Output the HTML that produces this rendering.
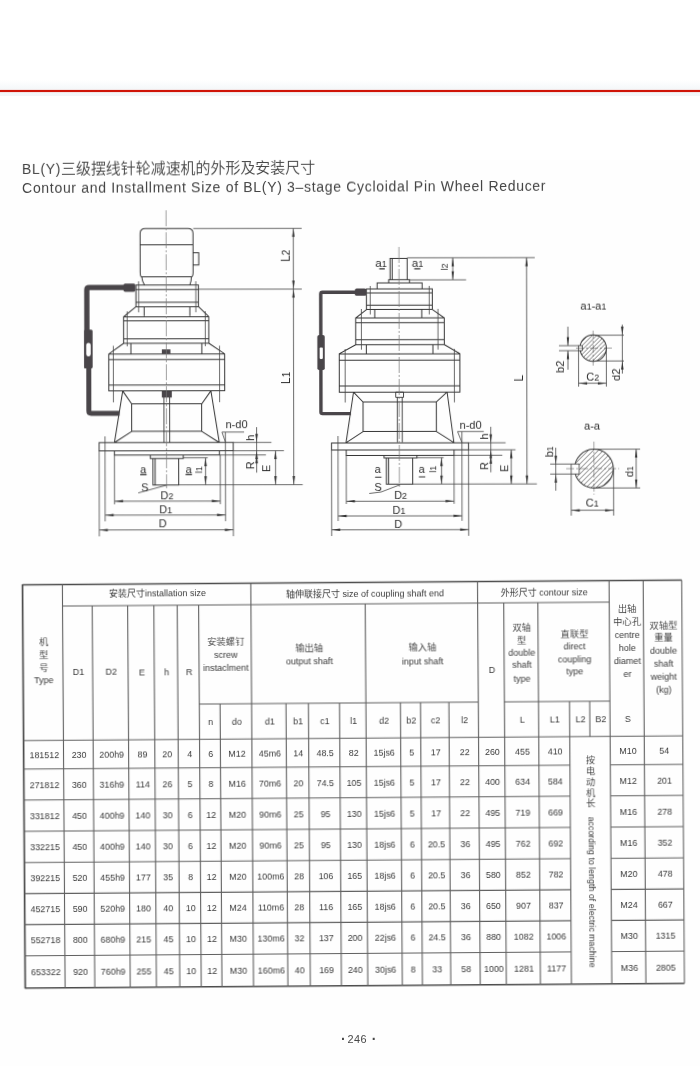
<!DOCTYPE html>
<html lang="zh-CN">
<head>
<meta charset="utf-8">
<title>BL(Y) 3–stage Cycloidal Pin Wheel Reducer</title>
<style>
html,body{margin:0;padding:0;background:#fff;}
body{width:700px;height:1066px;position:relative;overflow:hidden;font-family:"Liberation Sans","Noto Sans CJK SC",sans-serif;}
.band{position:absolute;left:0;top:80px;width:700px;height:16px;background:linear-gradient(#fff,#f4f7f9 60%,#f3f6f8);}
.red{position:absolute;left:0;top:89.6px;width:700px;height:2.6px;background:#cf1408;box-shadow:0 0 1px #e0503f;}
.scan{position:absolute;left:0;top:160px;width:700px;height:906px;background:#fefefe;}
.rot{position:absolute;left:0;top:0;width:700px;height:1066px;transform-origin:0 0;filter:blur(0.35px);}
.t1,.t2{position:absolute;left:22.1px;white-space:nowrap;color:#444;font-size:14px;line-height:16px;}
.t1{top:161.1px;letter-spacing:0.62px;}
.t1 span{font-size:15px;letter-spacing:-0.05px;font-weight:350;margin-left:0px;}
.t2{top:180.0px;letter-spacing:0.687px;}
.pg{position:absolute;left:347.4px;top:1033.0px;font-size:10.9px;line-height:12px;color:#474747;letter-spacing:0.5px;white-space:nowrap;filter:blur(0.35px);}
.pg b{position:absolute;top:-0.6px;font-size:14px;line-height:14px;letter-spacing:0;}
svg{position:absolute;left:0;top:0;}
svg text{font-family:"Liberation Sans","Noto Sans CJK SC",sans-serif;}
</style>
</head>
<body>
<div class="band"></div>
<div class="red"></div>
<div class="scan"></div>
<div class="rot" style="transform:matrix(1,-0.0042,0.0042,1,-0.781,0.092)">
<div class="t1">BL(Y)<span>三级摆线针轮减速机的外形及安装尺寸</span></div>
<div class="t2">Contour and Installment Size of BL(Y) 3–stage Cycloidal Pin Wheel Reducer</div>
</div>
<div class="rot" style="transform:matrix(1,-0.0015,0.002,1,-0.760,0.525)">
<svg width="700" height="1066" viewBox="0 0 700 1066">
<g id="left">
<path d="M140.4,272 V233.3 Q140.4,228.3 145.4,228.3 H188.3 Q193.3,228.3 193.3,233.3 V272 Q193.3,276.5 191.6,276.8 Q191.6,281 190,284.6 M140.4,272 Q140.4,276.5 142,276.8 Q142.4,281 144.6,284.6 M140.4,244.6H193.3 M141.8,276.6H191.8 M193.3,252.4 H199 V264.7 H193.3 M136.1,284.7 H198.6 V306.4 H136.1 Z M136.1,289.3H198.6 M136.1,302.1H198.6 M144.3,306.4 V315.7 M190,306.4 V315.7 M136.1,306.4 L123.7,316.5 V343 H208.9 V316.5 L198.6,306.4 M123.7,316.5H208.9 M123.7,320.6H208.9 M123.7,338.4H208.9 M131,343 V353.7 M201.9,343 V353.7 M123.7,343 L108.8,353.7 V390.6 H224.7 V353.7 L208.9,343 M108.8,353.7H224.7 M108.8,359.2H224.7 M108.8,384.8H224.7 M122.7,390.6 L114.3,442.3 M210.9,390.6 L219.2,442.3 M122.7,390.6 L131.6,403.5 H201.8 L210.9,390.6 M131.6,403.5 V431.1 H201.6 V403.5 M131.6,431.1 L114.8,442 M201.6,431.1 L218.6,442 M99,442.3 H233.1 V450.6 H99 Z M114.3,450.6 V454.7 H219.3 V450.6 M150.2,454.7 V458.3 H183.1 V454.7 M152.8,458.3 V484.7 H178.5 V458.3 M155.0,458.3V484.7" fill="none" stroke="#363636" stroke-width="1.0"/>
<path d="M138.8,281.0V312.0 M196.0,281.0V312.0 M127.3,311.0V346.0 M205.4,311.0V346.0 M113.4,345.5V402.0 M219.6,345.5V402.0" fill="none" stroke="#444" stroke-width="0.8"/>
<rect x="161.9" y="349.1" width="8.6" height="4.6" fill="#494549"/>
<rect x="161.8" y="391.0" width="10.0" height="6.3" fill="#494549"/>
<path d="M163.9,397 V442 M169.6,397 V442" fill="none" stroke="#363636" stroke-width="0.9"/>
<path d="M166.4,210.0V488.0" fill="none" stroke="#777" stroke-width="0.7" stroke-dasharray="16 2 2 2"/>
<path d="M125,287.2 H89.2 Q87,287.2 87,289.4 V368" fill="none" stroke="#494549" stroke-width="5.3"/>
<path d="M88.8,366 V410.6 Q88.8,413 91.2,413 H119.4" fill="none" stroke="#494549" stroke-width="5.0"/>
<rect x="123.6" y="283.2" width="12" height="8.4" rx="1.8" fill="#494549"/>
<rect x="84.3" y="329.2" width="8.4" height="38.8" rx="1.5" fill="#494549"/>
<rect x="86.3" y="342.6" width="4.5" height="13.4" rx="2.2" fill="#fefefe"/>
<path d="M193.5,228.3H302.0 M199.0,289.0H302.0 M179.0,484.6H302.5 M293.6,228.3V484.6 M233.1,442.3H271.3 M233.1,450.6H283.8 M219.3,454.8H265.8 M256.5,427.0V472.5 M275.4,450.6V484.6 M99.0,450.6V536.0 M233.1,450.6V536.0 M104.9,436.0V521.0 M225.3,432.0V521.0 M114.3,454.7V504.0 M220.1,454.7V504.0 M114.3,500.9H220.1 M104.9,514.8H225.3 M99.0,529.6H233.1 M183.0,457.6H207.6 M205.4,457.6V484.6 M221.9,431.9 H244 M221.9,431.9 L225.3,441.8 M138,492.6 L166.4,484.9" fill="none" stroke="#444" stroke-width="0.8"/>
<polygon points="293.6,228.3 292.4,236.8 294.9,236.8" fill="#333"/>
<polygon points="293.6,289.0 292.4,280.5 294.9,280.5" fill="#333"/>
<polygon points="293.6,289.0 292.4,297.5 294.9,297.5" fill="#333"/>
<polygon points="293.6,484.6 292.4,476.1 294.9,476.1" fill="#333"/>
<polygon points="256.5,442.3 255.2,433.8 257.8,433.8" fill="#333"/>
<polygon points="256.5,450.6 255.2,459.1 257.8,459.1" fill="#333"/>
<polygon points="256.5,454.8 255.2,463.3 257.8,463.3" fill="#333"/>
<polygon points="275.4,450.6 274.1,459.1 276.6,459.1" fill="#333"/>
<polygon points="275.4,484.6 274.1,476.1 276.6,476.1" fill="#333"/>
<polygon points="205.4,457.6 204.2,466.1 206.7,466.1" fill="#333"/>
<polygon points="205.4,484.6 204.2,476.1 206.7,476.1" fill="#333"/>
<polygon points="114.3,500.9 122.8,499.6 122.8,502.1" fill="#333"/>
<polygon points="220.1,500.9 211.6,499.6 211.6,502.1" fill="#333"/>
<polygon points="104.9,514.8 113.4,513.5 113.4,516.0" fill="#333"/>
<polygon points="225.3,514.8 216.8,513.5 216.8,516.0" fill="#333"/>
<polygon points="99.0,529.6 107.5,528.4 107.5,530.9" fill="#333"/>
<polygon points="233.1,529.6 224.6,528.4 224.6,530.9" fill="#333"/>
<g fill="#2c2c2c">
<text transform="translate(290.0,255.7) rotate(-90)" font-size="12" text-anchor="middle">L<tspan font-size="10">2</tspan></text>
<text transform="translate(290.0,377.9) rotate(-90)" font-size="12" text-anchor="middle">L<tspan font-size="10">1</tspan></text>
<text transform="translate(253.6,437.7) rotate(-90)" font-size="11" text-anchor="middle">h</text>
<text transform="translate(254.0,465.4) rotate(-90)" font-size="11" text-anchor="middle">R</text>
<text transform="translate(270.0,468.3) rotate(-90)" font-size="11" text-anchor="middle">E</text>
<text transform="translate(201.8,469.6) rotate(-90)" font-size="9" text-anchor="middle">l1</text>
<path d="M140.0,474.4H146.4 M185.4,474.4H191.8" fill="none" stroke="#333" stroke-width="1.1"/>
<text x="236.5" y="427.9" font-size="11" text-anchor="middle">n-d0</text>
<text x="143.2" y="473.0" font-size="11" text-anchor="middle">a</text>
<text x="188.6" y="473.0" font-size="11" text-anchor="middle">a</text>
<text x="144.8" y="490.5" font-size="11" text-anchor="middle">S</text>
<text x="166.8" y="499.2" font-size="11" text-anchor="middle">D<tspan font-size="9">2</tspan></text>
<text x="165.6" y="512.6" font-size="11" text-anchor="middle">D<tspan font-size="9">1</tspan></text>
<text x="162.4" y="526.6" font-size="11" text-anchor="middle">D</text>
</g>
</g>
<g id="right">
<path d="M390.3,279.7 V258.4 H407.4 V279.7 M392.4,258.4V279.7 M388.9,283 V279.7 H409.7 V283 M377.3,289 V283 H422.3 V289 M366.6,289 H432.5 V309.6 H366.6 Z M366.6,293.1H432.5 M366.6,305.3H432.5 M374.9,309.6 V317.8 M421.9,309.6 V317.8 M366.6,309.6 L355.8,318 V344.7 H444.4 V318 L432.5,309.6 M355.8,318.0H444.4 M355.8,322.8H444.4 M355.8,339.8H444.4 M366.4,344.7 V353.9 M433.0,344.7 V353.9 M355.8,344.7 L339.3,353.9 V392.2 H459.9 V353.9 L444.4,344.7 M339.3,353.9H459.9 M339.3,360.3H459.9 M339.3,386.1H459.9 M353.5,392.2 L345.9,442.8 M447.1,392.2 L453.8,442.8 M353.5,392.2 L363,402 H436.3 L447.1,392.2 M363,402 V431.6 H436.3 V402 M363,431.6 L346.2,442.6 M436.3,431.6 L453.6,442.6 M331.4,442.9 H468.4 V450.0 H331.4 Z M346.1,450.0 V455.5 H453.9 V450.0 M383.9,455.5 V458 H416.8 V455.5 M386.2,458 V484.2 H412.5 V458 M388.4,458.0V484.2" fill="none" stroke="#363636" stroke-width="1.0"/>
<path d="M370.4,286.0V314.5 M429.4,286.0V314.5 M361.5,309.0V349.7 M438.1,309.0V349.7 M345.2,349.0V402.5 M454.4,349.0V402.5" fill="none" stroke="#444" stroke-width="0.8"/>
<rect x="395.7" y="392.2" width="7.8" height="5.2" fill="none" stroke="#363636" stroke-width="0.9"/>
<path d="M397.3,397.4 V442.6 M402.2,397.4 V442.6" fill="none" stroke="#363636" stroke-width="0.9"/>
<path d="M399.2,247.0V488.0" fill="none" stroke="#777" stroke-width="0.7" stroke-dasharray="16 2 2 2"/>
<path d="M357,292.3 H322.6 Q320.9,292.3 320.9,294 V412 Q320.9,413.6 322.6,413.6 H350.8" fill="none" stroke="#494549" stroke-width="3.4"/>
<rect x="355.1" y="288.5" width="11.2" height="7.3" rx="1.5" fill="#494549"/>
<rect x="317.4" y="335" width="7.4" height="35" rx="1.8" fill="#494549"/>
<rect x="319.7" y="347.6" width="3.2" height="11.3" rx="0.8" fill="#fefefe"/>
<path d="M407.4,257.9H535.0 M410.0,280.0H466.3 M453.0,257.9V280.0 M526.8,257.9V484.2 M412.5,484.2H536.7 M468.4,443.0H505.5 M468.4,450.0H515.4 M453.9,455.5H502.2 M490.7,427.0V472.5 M511.1,450.0V484.2 M331.4,450.0V536.0 M468.4,450.0V536.0 M337.9,436.0V521.0 M461.8,432.0V521.0 M346.1,455.5V504.0 M453.9,455.5V504.0 M346.1,501.3H453.9 M337.9,516.0H461.8 M331.4,529.8H468.4 M416.8,457.8H443.5 M441.4,457.8V484.2 M457.5,431.7 H483.7 M457.5,431.7 L461.8,442.6 M369,493.5 L381,492 L399.8,484.8" fill="none" stroke="#444" stroke-width="0.8"/>
<polygon points="453.0,257.9 451.8,266.4 454.2,266.4" fill="#333"/>
<polygon points="453.0,280.0 451.8,271.5 454.2,271.5" fill="#333"/>
<polygon points="526.8,257.9 525.5,266.4 528.0,266.4" fill="#333"/>
<polygon points="526.8,484.2 525.5,475.7 528.0,475.7" fill="#333"/>
<polygon points="490.7,443.0 489.4,434.5 491.9,434.5" fill="#333"/>
<polygon points="490.7,450.0 489.4,458.5 491.9,458.5" fill="#333"/>
<polygon points="490.7,455.5 489.4,464.0 491.9,464.0" fill="#333"/>
<polygon points="511.1,450.0 509.9,458.5 512.4,458.5" fill="#333"/>
<polygon points="511.1,484.2 509.9,475.7 512.4,475.7" fill="#333"/>
<polygon points="441.4,457.8 440.1,466.3 442.6,466.3" fill="#333"/>
<polygon points="441.4,484.2 440.1,475.7 442.6,475.7" fill="#333"/>
<polygon points="346.1,501.3 354.6,500.1 354.6,502.6" fill="#333"/>
<polygon points="453.9,501.3 445.4,500.1 445.4,502.6" fill="#333"/>
<polygon points="337.9,516.0 346.4,514.8 346.4,517.2" fill="#333"/>
<polygon points="461.8,516.0 453.3,514.8 453.3,517.2" fill="#333"/>
<polygon points="331.4,529.8 339.9,528.5 339.9,531.0" fill="#333"/>
<polygon points="468.4,529.8 459.9,528.5 459.9,531.0" fill="#333"/>
<g fill="#2c2c2c">
<text x="381.3" y="266.5" font-size="11.5" text-anchor="middle">a<tspan font-size="9">1</tspan></text>
<text x="417.8" y="266.5" font-size="11.5" text-anchor="middle">a<tspan font-size="9">1</tspan></text>
<text transform="translate(447.6,267.0) rotate(-90)" font-size="9" text-anchor="middle">l2</text>
<path d="M379.5,268.9H385.0 M414.5,268.9H420.5 M374.9,477.2H381.3 M418.7,477.0H425.1" fill="none" stroke="#333" stroke-width="1.1"/>
<text transform="translate(523.4,378.3) rotate(-90)" font-size="12" text-anchor="middle">L</text>
<text transform="translate(488.2,436.6) rotate(-90)" font-size="11" text-anchor="middle">h</text>
<text transform="translate(487.6,466.4) rotate(-90)" font-size="11" text-anchor="middle">R</text>
<text transform="translate(507.9,468.6) rotate(-90)" font-size="11" text-anchor="middle">E</text>
<text transform="translate(436.2,469.2) rotate(-90)" font-size="9" text-anchor="middle">l1</text>
<text x="470.6" y="428.8" font-size="11" text-anchor="middle">n-d0</text>
<text x="377.5" y="472.8" font-size="11" text-anchor="middle">a</text>
<text x="421.7" y="472.8" font-size="11" text-anchor="middle">a</text>
<text x="378.0" y="491.0" font-size="11" text-anchor="middle">S</text>
<text x="400.4" y="499.0" font-size="11" text-anchor="middle">D<tspan font-size="9">2</tspan></text>
<text x="398.8" y="513.6" font-size="11" text-anchor="middle">D<tspan font-size="9">1</tspan></text>
<text x="398.0" y="527.5" font-size="11" text-anchor="middle">D</text>
</g>
</g>
<g id="sec">
<clipPath id="c1"><circle cx="593.2" cy="348.5" r="13.2"/></clipPath>
<path d="M553.6,361.7 L580.0,335.3 M557.9,361.7 L584.3,335.3 M562.2,361.7 L588.6,335.3 M566.5,361.7 L592.9,335.3 M570.8,361.7 L597.2,335.3 M575.1,361.7 L601.5,335.3 M579.4,361.7 L605.8,335.3 M583.7,361.7 L610.1,335.3 M588.0,361.7 L614.4,335.3 M592.3,361.7 L618.7,335.3 M596.6,361.7 L623.0,335.3 M600.9,361.7 L627.3,335.3 M605.2,361.7 L631.6,335.3" stroke="#444" stroke-width="0.7" clip-path="url(#c1)"/>
<circle cx="593.2" cy="348.5" r="13.2" fill="none" stroke="#363636" stroke-width="1"/>
<rect x="578.6" y="346" width="3.8" height="5" fill="#fefefe" stroke="#363636" stroke-width="0.8"/>
<path d="M559.0,346.0H579.0 M559.0,351.0H579.0 M568.0,327.0V346.0 M568.0,351.0V370.0 M578.6,351.0V387.0 M606.4,349.0V387.0 M578.6,383.6H606.4 M593.0,335.6H624.0 M593.0,361.4H624.0 M622.4,325.0V374.0" fill="none" stroke="#444" stroke-width="0.8"/>
<path d="M593.2,331.0V366.0 M576.0,348.5H612.0" fill="none" stroke="#444" stroke-width="0.5" stroke-dasharray="8 2 2 2"/>
<polygon points="568.0,346.0 566.8,337.5 569.2,337.5" fill="#333"/>
<polygon points="568.0,351.0 566.8,359.5 569.2,359.5" fill="#333"/>
<polygon points="578.6,383.6 587.1,382.4 587.1,384.9" fill="#333"/>
<polygon points="606.4,383.6 597.9,382.4 597.9,384.9" fill="#333"/>
<polygon points="622.4,335.6 621.1,327.1 623.6,327.1" fill="#333"/>
<polygon points="622.4,361.4 621.1,369.9 623.6,369.9" fill="#333"/>
<g fill="#2c2c2c">
<text x="593.5" y="310.4" font-size="11" text-anchor="middle">a<tspan font-size="9">1</tspan>-a<tspan font-size="9">1</tspan></text>
<text transform="translate(564.0,367.0) rotate(-90)" font-size="11" text-anchor="middle">b2</text>
<text x="592.8" y="380.6" font-size="11" text-anchor="middle">C<tspan font-size="9">2</tspan></text>
<text transform="translate(619.5,375.0) rotate(-90)" font-size="11" text-anchor="middle">d2</text>
</g>
<clipPath id="c2"><circle cx="593.8" cy="469" r="19.4"/></clipPath>
<path d="M535.6,488.4 L574.4,449.6 M540.6,488.4 L579.4,449.6 M545.6,488.4 L584.4,449.6 M550.6,488.4 L589.4,449.6 M555.6,488.4 L594.4,449.6 M560.6,488.4 L599.4,449.6 M565.6,488.4 L604.4,449.6 M570.6,488.4 L609.4,449.6 M575.6,488.4 L614.4,449.6 M580.6,488.4 L619.4,449.6 M585.6,488.4 L624.4,449.6 M590.6,488.4 L629.4,449.6 M595.6,488.4 L634.4,449.6 M600.6,488.4 L639.4,449.6 M605.6,488.4 L644.4,449.6 M610.6,488.4 L649.4,449.6" stroke="#444" stroke-width="0.7" clip-path="url(#c2)"/>
<circle cx="593.8" cy="469" r="19.4" fill="none" stroke="#363636" stroke-width="1"/>
<rect x="571" y="464.4" width="8" height="10" fill="#fefefe" stroke="#363636" stroke-width="0.8"/>
<path d="M550.0,464.4H571.0 M550.0,474.4H571.0 M555.6,448.0V491.0 M571.0,474.4V516.0 M613.4,469.0V516.0 M571.0,510.6H613.4 M593.8,449.6H640.0 M593.8,488.4H640.0 M636.0,449.6V488.4" fill="none" stroke="#444" stroke-width="0.8"/>
<path d="M593.8,442.0V495.0 M566.0,469.0H619.0" fill="none" stroke="#444" stroke-width="0.5" stroke-dasharray="8 2 2 2"/>
<polygon points="555.6,464.4 554.4,455.9 556.9,455.9" fill="#333"/>
<polygon points="555.6,474.4 554.4,482.9 556.9,482.9" fill="#333"/>
<polygon points="571.0,510.6 579.5,509.4 579.5,511.9" fill="#333"/>
<polygon points="613.4,510.6 604.9,509.4 604.9,511.9" fill="#333"/>
<polygon points="636.0,449.6 634.8,458.1 637.2,458.1" fill="#333"/>
<polygon points="636.0,488.4 634.8,479.9 637.2,479.9" fill="#333"/>
<g fill="#2c2c2c">
<text x="592.0" y="429.6" font-size="11" text-anchor="middle">a-a</text>
<text transform="translate(553.0,452.0) rotate(-90)" font-size="11" text-anchor="middle">b<tspan font-size="9">1</tspan></text>
<text x="592.0" y="507.0" font-size="11" text-anchor="middle">C<tspan font-size="9">1</tspan></text>
<text transform="translate(632.5,472.0) rotate(-90)" font-size="11" text-anchor="middle">d<tspan font-size="9">1</tspan></text>
</g>
</g>
</svg>
</div>
<div class="rot" style="transform:matrix(1,-0.0072,0.0068,1,-4.080,2.520)">
<svg width="700" height="1066" viewBox="0 0 700 1066">
<g id="tbl" font-size="9.0" fill="#383838" text-anchor="middle">
<line x1="22.6" y1="581.9" x2="22.6" y2="986.3" stroke="#4c4c4c" stroke-width="1.7"/>
<line x1="681.8" y1="582.5" x2="681.8" y2="985.7" stroke="#666" stroke-width="1.1"/>
<line x1="22.6" y1="582.5" x2="681.8" y2="582.5" stroke="#4c4c4c" stroke-width="1.3"/>
<line x1="22.6" y1="985.7" x2="681.8" y2="985.7" stroke="#4c4c4c" stroke-width="1.4"/>
<line x1="62.5" y1="604.0" x2="609.2" y2="604.0" stroke="#606060" stroke-width="1.1"/>
<line x1="198.6" y1="703.0" x2="477.6" y2="703.0" stroke="#606060" stroke-width="1.1"/>
<line x1="503.7" y1="703.0" x2="609.2" y2="703.0" stroke="#606060" stroke-width="1.1"/>
<line x1="22.6" y1="738.2" x2="681.8" y2="738.2" stroke="#606060" stroke-width="1.1"/>
<line x1="22.6" y1="766.7" x2="568.8" y2="766.7" stroke="#606060" stroke-width="1.1"/>
<line x1="609.2" y1="766.7" x2="681.8" y2="766.7" stroke="#606060" stroke-width="1.1"/>
<line x1="22.6" y1="797.7" x2="568.8" y2="797.7" stroke="#606060" stroke-width="1.1"/>
<line x1="609.2" y1="797.7" x2="681.8" y2="797.7" stroke="#606060" stroke-width="1.1"/>
<line x1="22.6" y1="829.0" x2="568.8" y2="829.0" stroke="#606060" stroke-width="1.1"/>
<line x1="609.2" y1="829.0" x2="681.8" y2="829.0" stroke="#606060" stroke-width="1.1"/>
<line x1="22.6" y1="860.2" x2="568.8" y2="860.2" stroke="#606060" stroke-width="1.1"/>
<line x1="609.2" y1="860.2" x2="681.8" y2="860.2" stroke="#606060" stroke-width="1.1"/>
<line x1="22.6" y1="891.4" x2="568.8" y2="891.4" stroke="#606060" stroke-width="1.1"/>
<line x1="609.2" y1="891.4" x2="681.8" y2="891.4" stroke="#606060" stroke-width="1.1"/>
<line x1="22.6" y1="922.4" x2="568.8" y2="922.4" stroke="#606060" stroke-width="1.1"/>
<line x1="609.2" y1="922.4" x2="681.8" y2="922.4" stroke="#606060" stroke-width="1.1"/>
<line x1="22.6" y1="953.5" x2="568.8" y2="953.5" stroke="#606060" stroke-width="1.1"/>
<line x1="609.2" y1="953.5" x2="681.8" y2="953.5" stroke="#606060" stroke-width="1.1"/>
<line x1="62.5" y1="582.5" x2="62.5" y2="985.7" stroke="#606060" stroke-width="1.1"/>
<line x1="92.2" y1="604.0" x2="92.2" y2="985.7" stroke="#606060" stroke-width="1.1"/>
<line x1="127.6" y1="604.0" x2="127.6" y2="985.7" stroke="#606060" stroke-width="1.1"/>
<line x1="153.8" y1="604.0" x2="153.8" y2="985.7" stroke="#606060" stroke-width="1.1"/>
<line x1="177.2" y1="604.0" x2="177.2" y2="985.7" stroke="#606060" stroke-width="1.1"/>
<line x1="198.6" y1="604.0" x2="198.6" y2="985.7" stroke="#606060" stroke-width="1.1"/>
<line x1="219.4" y1="703.0" x2="219.4" y2="985.7" stroke="#606060" stroke-width="1.1"/>
<line x1="250.9" y1="582.5" x2="250.9" y2="985.7" stroke="#606060" stroke-width="1.1"/>
<line x1="285.3" y1="703.0" x2="285.3" y2="985.7" stroke="#606060" stroke-width="1.1"/>
<line x1="307.7" y1="703.0" x2="307.7" y2="985.7" stroke="#606060" stroke-width="1.1"/>
<line x1="338.8" y1="703.0" x2="338.8" y2="985.7" stroke="#606060" stroke-width="1.1"/>
<line x1="365.2" y1="604.0" x2="365.2" y2="985.7" stroke="#606060" stroke-width="1.1"/>
<line x1="399.7" y1="703.0" x2="399.7" y2="985.7" stroke="#606060" stroke-width="1.1"/>
<line x1="419.8" y1="703.0" x2="419.8" y2="985.7" stroke="#606060" stroke-width="1.1"/>
<line x1="448.2" y1="703.0" x2="448.2" y2="985.7" stroke="#606060" stroke-width="1.1"/>
<line x1="477.6" y1="582.5" x2="477.6" y2="985.7" stroke="#606060" stroke-width="1.1"/>
<line x1="503.7" y1="604.0" x2="503.7" y2="985.7" stroke="#606060" stroke-width="1.1"/>
<line x1="537.8" y1="604.0" x2="537.8" y2="985.7" stroke="#606060" stroke-width="1.1"/>
<line x1="568.8" y1="703.0" x2="568.8" y2="985.7" stroke="#606060" stroke-width="1.1"/>
<line x1="589.0" y1="703.0" x2="589.0" y2="738.2" stroke="#606060" stroke-width="1.1"/>
<line x1="609.2" y1="582.5" x2="609.2" y2="985.7" stroke="#606060" stroke-width="1.1"/>
<line x1="643.3" y1="582.5" x2="643.3" y2="985.7" stroke="#606060" stroke-width="1.1"/>
<text x="43.3" y="642.7" font-size="9.3" font-weight="350">机</text>
<text x="43.3" y="656.2" font-size="9.3" font-weight="350">型</text>
<text x="43.3" y="669.2" font-size="9.3" font-weight="350">号</text>
<text x="43.3" y="681.4">Type</text>
<text x="157.5" y="595.2">安装尺寸installation size</text>
<text x="365.1" y="596.7">轴伸联接尺寸 size of coupling shaft end</text>
<text x="544.2" y="597.5">外形尺寸 contour size</text>
<text x="78.1" y="673.1">D1</text>
<text x="110.7" y="673.4">D2</text>
<text x="141.5" y="673.6">E</text>
<text x="166.3" y="673.8">h</text>
<text x="188.7" y="673.9">R</text>
<text x="225.6" y="644.0" font-size="9.3" font-weight="350">安装螺钉</text>
<text x="225.6" y="657.2">screw</text>
<text x="225.6" y="669.7">instaclment</text>
<text x="308.9" y="650.6" font-size="9.3" font-weight="350">输出轴</text>
<text x="308.9" y="663.8">output shaft</text>
<text x="422.2" y="651.4" font-size="9.3" font-weight="350">输入轴</text>
<text x="422.2" y="664.6">input shaft</text>
<text x="491.4" y="674.1">D</text>
<text x="521.5" y="632.1" font-size="9.3" font-weight="350">双轴</text>
<text x="521.5" y="644.6" font-size="9.3" font-weight="350">型</text>
<text x="521.5" y="656.8">double</text>
<text x="521.5" y="669.3">shaft</text>
<text x="521.5" y="683.3">type</text>
<text x="574.3" y="638.5" font-size="9.3" font-weight="350">直联型</text>
<text x="574.3" y="650.7">direct</text>
<text x="574.3" y="663.7">coupling</text>
<text x="574.3" y="676.2">type</text>
<text x="627.0" y="614.4" font-size="9.3" font-weight="350">出轴</text>
<text x="627.0" y="626.9" font-size="9.3" font-weight="350">中心孔</text>
<text x="627.0" y="640.1">centre</text>
<text x="627.0" y="652.6">hole</text>
<text x="627.0" y="665.6">diamet</text>
<text x="627.0" y="678.6">er</text>
<text x="663.3" y="630.7" font-size="9.3" font-weight="350">双轴型</text>
<text x="663.3" y="643.2" font-size="9.3" font-weight="350">重量</text>
<text x="663.3" y="656.4">double</text>
<text x="663.3" y="668.9">shaft</text>
<text x="663.3" y="682.4">weight</text>
<text x="663.3" y="695.4">(kg)</text>
<text x="209.8" y="723.7">n</text>
<text x="236.0" y="723.7">do</text>
<text x="268.9" y="723.7">d1</text>
<text x="297.3" y="723.7">b1</text>
<text x="324.1" y="723.7">c1</text>
<text x="352.8" y="723.7">l1</text>
<text x="383.2" y="723.7">d2</text>
<text x="410.6" y="723.7">b2</text>
<text x="434.8" y="723.7">c2</text>
<text x="463.7" y="723.7">l2</text>
<text x="521.5" y="723.7">L</text>
<text x="554.1" y="723.7">L1</text>
<text x="579.7" y="723.7">L2</text>
<text x="599.9" y="723.7">B2</text>
<text x="627.0" y="723.7">S</text>
<text x="43.3" y="755.9" font-size="8.9">181512</text>
<text x="78.1" y="755.9" font-size="8.9">230</text>
<text x="110.7" y="755.9" font-size="8.9">200h9</text>
<text x="141.5" y="755.9" font-size="8.9">89</text>
<text x="166.3" y="755.9" font-size="8.9">20</text>
<text x="188.7" y="755.9" font-size="8.9">4</text>
<text x="209.8" y="755.9" font-size="8.9">6</text>
<text x="236.0" y="755.9" font-size="8.9">M12</text>
<text x="268.9" y="755.9" font-size="8.9">45m6</text>
<text x="297.3" y="755.9" font-size="8.9">14</text>
<text x="324.1" y="755.9" font-size="8.9">48.5</text>
<text x="352.8" y="755.9" font-size="8.9">82</text>
<text x="383.2" y="755.9" font-size="8.9">15js6</text>
<text x="410.6" y="755.9" font-size="8.9">5</text>
<text x="434.8" y="755.9" font-size="8.9">17</text>
<text x="463.7" y="755.9" font-size="8.9">22</text>
<text x="491.4" y="755.9" font-size="8.9">260</text>
<text x="521.5" y="755.9" font-size="8.9">455</text>
<text x="554.1" y="755.9" font-size="8.9">410</text>
<text x="627.0" y="755.9" font-size="8.9">M10</text>
<text x="663.3" y="755.9" font-size="8.9">54</text>
<text x="43.3" y="785.6" font-size="8.9">271812</text>
<text x="78.1" y="785.6" font-size="8.9">360</text>
<text x="110.7" y="785.6" font-size="8.9">316h9</text>
<text x="141.5" y="785.6" font-size="8.9">114</text>
<text x="166.3" y="785.6" font-size="8.9">26</text>
<text x="188.7" y="785.6" font-size="8.9">5</text>
<text x="209.8" y="785.6" font-size="8.9">8</text>
<text x="236.0" y="785.6" font-size="8.9">M16</text>
<text x="268.9" y="785.6" font-size="8.9">70m6</text>
<text x="297.3" y="785.6" font-size="8.9">20</text>
<text x="324.1" y="785.6" font-size="8.9">74.5</text>
<text x="352.8" y="785.6" font-size="8.9">105</text>
<text x="383.2" y="785.6" font-size="8.9">15js6</text>
<text x="410.6" y="785.6" font-size="8.9">5</text>
<text x="434.8" y="785.6" font-size="8.9">17</text>
<text x="463.7" y="785.6" font-size="8.9">22</text>
<text x="491.4" y="785.6" font-size="8.9">400</text>
<text x="521.5" y="785.6" font-size="8.9">634</text>
<text x="554.1" y="785.6" font-size="8.9">584</text>
<text x="627.0" y="785.6" font-size="8.9">M12</text>
<text x="663.3" y="785.6" font-size="8.9">201</text>
<text x="43.3" y="816.8" font-size="8.9">331812</text>
<text x="78.1" y="816.8" font-size="8.9">450</text>
<text x="110.7" y="816.8" font-size="8.9">400h9</text>
<text x="141.5" y="816.8" font-size="8.9">140</text>
<text x="166.3" y="816.8" font-size="8.9">30</text>
<text x="188.7" y="816.8" font-size="8.9">6</text>
<text x="209.8" y="816.8" font-size="8.9">12</text>
<text x="236.0" y="816.8" font-size="8.9">M20</text>
<text x="268.9" y="816.8" font-size="8.9">90m6</text>
<text x="297.3" y="816.8" font-size="8.9">25</text>
<text x="324.1" y="816.8" font-size="8.9">95</text>
<text x="352.8" y="816.8" font-size="8.9">130</text>
<text x="383.2" y="816.8" font-size="8.9">15js6</text>
<text x="410.6" y="816.8" font-size="8.9">5</text>
<text x="434.8" y="816.8" font-size="8.9">17</text>
<text x="463.7" y="816.8" font-size="8.9">22</text>
<text x="491.4" y="816.8" font-size="8.9">495</text>
<text x="521.5" y="816.8" font-size="8.9">719</text>
<text x="554.1" y="816.8" font-size="8.9">669</text>
<text x="627.0" y="816.8" font-size="8.9">M16</text>
<text x="663.3" y="816.8" font-size="8.9">278</text>
<text x="43.3" y="848.0" font-size="8.9">332215</text>
<text x="78.1" y="848.0" font-size="8.9">450</text>
<text x="110.7" y="848.0" font-size="8.9">400h9</text>
<text x="141.5" y="848.0" font-size="8.9">140</text>
<text x="166.3" y="848.0" font-size="8.9">30</text>
<text x="188.7" y="848.0" font-size="8.9">6</text>
<text x="209.8" y="848.0" font-size="8.9">12</text>
<text x="236.0" y="848.0" font-size="8.9">M20</text>
<text x="268.9" y="848.0" font-size="8.9">90m6</text>
<text x="297.3" y="848.0" font-size="8.9">25</text>
<text x="324.1" y="848.0" font-size="8.9">95</text>
<text x="352.8" y="848.0" font-size="8.9">130</text>
<text x="383.2" y="848.0" font-size="8.9">18js6</text>
<text x="410.6" y="848.0" font-size="8.9">6</text>
<text x="434.8" y="848.0" font-size="8.9">20.5</text>
<text x="463.7" y="848.0" font-size="8.9">36</text>
<text x="491.4" y="848.0" font-size="8.9">495</text>
<text x="521.5" y="848.0" font-size="8.9">762</text>
<text x="554.1" y="848.0" font-size="8.9">692</text>
<text x="627.0" y="848.0" font-size="8.9">M16</text>
<text x="663.3" y="848.0" font-size="8.9">352</text>
<text x="43.3" y="879.2" font-size="8.9">392215</text>
<text x="78.1" y="879.2" font-size="8.9">520</text>
<text x="110.7" y="879.2" font-size="8.9">455h9</text>
<text x="141.5" y="879.2" font-size="8.9">177</text>
<text x="166.3" y="879.2" font-size="8.9">35</text>
<text x="188.7" y="879.2" font-size="8.9">8</text>
<text x="209.8" y="879.2" font-size="8.9">12</text>
<text x="236.0" y="879.2" font-size="8.9">M20</text>
<text x="268.9" y="879.2" font-size="8.9">100m6</text>
<text x="297.3" y="879.2" font-size="8.9">28</text>
<text x="324.1" y="879.2" font-size="8.9">106</text>
<text x="352.8" y="879.2" font-size="8.9">165</text>
<text x="383.2" y="879.2" font-size="8.9">18js6</text>
<text x="410.6" y="879.2" font-size="8.9">6</text>
<text x="434.8" y="879.2" font-size="8.9">20.5</text>
<text x="463.7" y="879.2" font-size="8.9">36</text>
<text x="491.4" y="879.2" font-size="8.9">580</text>
<text x="521.5" y="879.2" font-size="8.9">852</text>
<text x="554.1" y="879.2" font-size="8.9">782</text>
<text x="627.0" y="879.2" font-size="8.9">M20</text>
<text x="663.3" y="879.2" font-size="8.9">478</text>
<text x="43.3" y="910.3" font-size="8.9">452715</text>
<text x="78.1" y="910.3" font-size="8.9">590</text>
<text x="110.7" y="910.3" font-size="8.9">520h9</text>
<text x="141.5" y="910.3" font-size="8.9">180</text>
<text x="166.3" y="910.3" font-size="8.9">40</text>
<text x="188.7" y="910.3" font-size="8.9">10</text>
<text x="209.8" y="910.3" font-size="8.9">12</text>
<text x="236.0" y="910.3" font-size="8.9">M24</text>
<text x="268.9" y="910.3" font-size="8.9">110m6</text>
<text x="297.3" y="910.3" font-size="8.9">28</text>
<text x="324.1" y="910.3" font-size="8.9">116</text>
<text x="352.8" y="910.3" font-size="8.9">165</text>
<text x="383.2" y="910.3" font-size="8.9">18js6</text>
<text x="410.6" y="910.3" font-size="8.9">6</text>
<text x="434.8" y="910.3" font-size="8.9">20.5</text>
<text x="463.7" y="910.3" font-size="8.9">36</text>
<text x="491.4" y="910.3" font-size="8.9">650</text>
<text x="521.5" y="910.3" font-size="8.9">907</text>
<text x="554.1" y="910.3" font-size="8.9">837</text>
<text x="627.0" y="910.3" font-size="8.9">M24</text>
<text x="663.3" y="910.3" font-size="8.9">667</text>
<text x="43.3" y="941.4" font-size="8.9">552718</text>
<text x="78.1" y="941.4" font-size="8.9">800</text>
<text x="110.7" y="941.4" font-size="8.9">680h9</text>
<text x="141.5" y="941.4" font-size="8.9">215</text>
<text x="166.3" y="941.4" font-size="8.9">45</text>
<text x="188.7" y="941.4" font-size="8.9">10</text>
<text x="209.8" y="941.4" font-size="8.9">12</text>
<text x="236.0" y="941.4" font-size="8.9">M30</text>
<text x="268.9" y="941.4" font-size="8.9">130m6</text>
<text x="297.3" y="941.4" font-size="8.9">32</text>
<text x="324.1" y="941.4" font-size="8.9">137</text>
<text x="352.8" y="941.4" font-size="8.9">200</text>
<text x="383.2" y="941.4" font-size="8.9">22js6</text>
<text x="410.6" y="941.4" font-size="8.9">6</text>
<text x="434.8" y="941.4" font-size="8.9">24.5</text>
<text x="463.7" y="941.4" font-size="8.9">36</text>
<text x="491.4" y="941.4" font-size="8.9">880</text>
<text x="521.5" y="941.4" font-size="8.9">1082</text>
<text x="554.1" y="941.4" font-size="8.9">1006</text>
<text x="627.0" y="941.4" font-size="8.9">M30</text>
<text x="663.3" y="941.4" font-size="8.9">1315</text>
<text x="43.3" y="973.0" font-size="8.9">653322</text>
<text x="78.1" y="973.0" font-size="8.9">920</text>
<text x="110.7" y="973.0" font-size="8.9">760h9</text>
<text x="141.5" y="973.0" font-size="8.9">255</text>
<text x="166.3" y="973.0" font-size="8.9">45</text>
<text x="188.7" y="973.0" font-size="8.9">10</text>
<text x="209.8" y="973.0" font-size="8.9">12</text>
<text x="236.0" y="973.0" font-size="8.9">M30</text>
<text x="268.9" y="973.0" font-size="8.9">160m6</text>
<text x="297.3" y="973.0" font-size="8.9">40</text>
<text x="324.1" y="973.0" font-size="8.9">169</text>
<text x="352.8" y="973.0" font-size="8.9">240</text>
<text x="383.2" y="973.0" font-size="8.9">30js6</text>
<text x="410.6" y="973.0" font-size="8.9">8</text>
<text x="434.8" y="973.0" font-size="8.9">33</text>
<text x="463.7" y="973.0" font-size="8.9">58</text>
<text x="491.4" y="973.0" font-size="8.9">1000</text>
<text x="521.5" y="973.0" font-size="8.9">1281</text>
<text x="554.1" y="973.0" font-size="8.9">1177</text>
<text x="627.0" y="973.0" font-size="8.9">M36</text>
<text x="663.3" y="973.0" font-size="8.9">2805</text>
<text x="589.5" y="764.7" font-size="9.3" font-weight="350">按</text>
<text x="589.5" y="776.0" font-size="9.3" font-weight="350">电</text>
<text x="589.5" y="786.5" font-size="9.3" font-weight="350">动</text>
<text x="589.5" y="797.5" font-size="9.3" font-weight="350">机</text>
<text x="589.5" y="808.1" font-size="9.3" font-weight="350">长</text>
<text transform="translate(586.8,818.4) rotate(90)" text-anchor="start" font-size="8.8" textLength="151" lengthAdjust="spacing">according to length of electric machine</text>
</g>
</svg>
</div>
<div class="pg"><b style="left:-6.5px">·</b>246<b style="left:24.3px">·</b></div>
</body>
</html>
